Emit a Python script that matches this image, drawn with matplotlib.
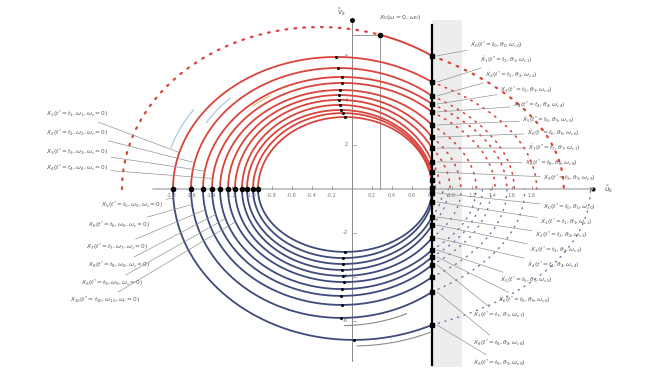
import numpy as np
import matplotlib.pyplot as plt

# crossings of the negative real axis (shared by the upper and lower branch)
x_start = [-1.79, -1.61, -1.49, -1.40, -1.32, -1.24, -1.17, -1.10, -1.05, -0.99, -0.94]
# upper (red) branches: peak height and height where they meet the boundary line
red_peak = [6.0, 5.5, 5.09, 4.82, 4.5, 4.27, 4.05, 3.82, 3.59, 3.45, 3.27]
red_end = [4.86, 4.23, 3.86, 3.5, 2.91, 2.36, 1.86, 1.23, 0.77, 0.41, 0.05]
# lower (blue) branches
blue_peak = [-6.86, -5.86, -5.27, -4.86, -4.55, -4.23, -3.95, -3.68, -3.41, -3.14, -2.86]
blue_end = [-6.18, -4.68, -4.0, -3.45, -3.09, -2.77, -2.23, -1.64, -1.27, -0.59, -0.18]
# outer reference curve X0
x0_start, x0_peak, x0_end, x0_mark = -2.3, 7.36, 6.05, 0.28
x_line = 0.8
stretch = 1.55   # widening of the dotted part beyond the boundary

xticks = [-1.8, -1.6, -1.4, -1.2, -1.0, -0.8, -0.6, -0.4, -0.2,
          0.2, 0.4, 0.6, 0.8, 1.0, 1.2, 1.4, 1.6, 1.8]
yticks = [-6, -4, -2, 2, 4, 6]

right_up_idx = [0, 1, 2, 3, 4, 5, 6, 7, 8]          # red curves labelled on the right
right_low_idx = [10, 9, 8, 7, 6, 5, 4, 3, 1, 0]      # blue curves labelled on the right
left_up_idx = [0, 1, 2, 3]
left_low_idx = [0, 1, 2, 3, 4, 5]

RED = '#d9443c'
BLUE = '#3e4a7a'
GREY = '#8a8a8a'
TXT = '#555555'


def branch(x0, peak, end):
    s = np.sqrt(1 - (end / peak) ** 2)
    a = (x_line - x0) / (1 + s)
    return x0 + a, a


def arc(cx, a, b, t0, t1, n=200):
    t = np.linspace(t0, t1, n)
    return cx + a * np.cos(t), b * np.sin(t)


def outer_arc(cx, a, b, t0):
    x, y = arc(cx, a, b, t0, 0)
    return x_line + (x - x_line) * stretch, y


def point(cx, a, b, t):
    return cx + a * np.cos(t), b * np.sin(t)


fig = plt.figure(figsize=(6.65, 3.76), dpi=100)
ax = fig.add_axes([0, 0, 1, 1])
ax.set_xlim(-3.52, 3.13)
ax.set_ylim(-8.5, 8.59)
ax.axis('off')

# shaded band right of the boundary
ax.fill_between([x_line, 1.1], -8.1, 7.7, color='#ededed', lw=0, zorder=0)

# axes
ax.annotate('', xy=(2.45, 0), xytext=(-2.02, 0),
            arrowprops=dict(arrowstyle='-|>', color=GREY, lw=0.7, mutation_scale=5))
ax.plot([0, 0], [-7.8, 7.7], color=GREY, lw=0.7, zorder=1)
ax.plot([0], [7.7], 'o', color='k', ms=2.5)
ax.plot([2.41], [0], 'o', color='k', ms=2)
for t in xticks:
    ax.plot([t, t], [0, 0.15], color=GREY, lw=0.5)
    ax.text(t, -0.2, f'{t:.1f}', fontsize=3.6, color='#777777', ha='center', va='top')
for t in yticks:
    ax.plot([0, 0.04], [t, t], color=GREY, lw=0.5)
    ax.text(-0.04, t, f'{t:d}', fontsize=3.8, color='#777777', ha='right', va='center')
ax.text(-0.1, 8.05, r'$\tilde{v}_k$', fontsize=5, color=TXT, ha='center', va='center')
ax.text(2.52, 0.0, r'$\tilde{u}_k$', fontsize=5, color=TXT, ha='left', va='center')

# outer reference curve X0
cx0, a0 = branch(x0_start, x0_peak, x0_end)
t_mark = np.arccos((x0_mark - cx0) / a0)
t_end0 = np.arccos((x_line - cx0) / a0)
dot = dict(ls=(0, (0.8, 3.2)), lw=1.6, dash_capstyle='round')
ax.plot(*arc(cx0, a0, x0_peak, np.pi, t_mark), color=RED, **dot)
ax.plot(*arc(cx0, a0, x0_peak, t_mark, t_end0), color=RED, lw=1.4)
ax.plot(*outer_arc(cx0, a0, x0_peak, t_end0), color=RED, **dot)
xm, ym = point(cx0, a0, x0_peak, t_mark)
ax.plot([xm, xm], [0, ym], color=GREY, lw=0.6)
ax.plot([0, xm], [ym, ym], color=GREY, lw=0.6)
ax.plot([xm], [ym], 'o', color='k', ms=3)
ax.plot([x_line], [x0_end], 's', color='k', ms=3)
ax.text(0.48, 7.8, r'$X_0(\omega=0,\omega_0)$', fontsize=4.5, color=TXT, ha='center', va='center')

red_geo = []
blue_geo = []
for i in range(len(x_start)):
    cx, a = branch(x_start[i], red_peak[i], red_end[i])
    te = np.arccos(np.clip((x_line - cx) / a, -1, 1))
    ax.plot(*arc(cx, a, red_peak[i], np.pi, te), color=RED, lw=1.3, zorder=3)
    ax.plot(*outer_arc(cx, a, red_peak[i], te), color=RED, ls=(0, (0.8, 3.5)), lw=1.2,
            dash_capstyle='round', zorder=2)
    ax.plot([cx], [red_peak[i]], 'o', color='k', ms=1.2, zorder=4)
    red_geo.append((cx, a))

    cx, a = branch(x_start[i], blue_peak[i], blue_end[i])
    te = np.arccos(np.clip((x_line - cx) / a, -1, 1))
    ax.plot(*arc(cx, a, blue_peak[i], np.pi, te), color=BLUE, lw=1.3, zorder=3)
    ax.plot(*outer_arc(cx, a, blue_peak[i], te), color='#6474a8', ls=(0, (0.8, 4.0)), lw=1.0,
            dash_capstyle='round', zorder=2)
    ax.plot([cx], [blue_peak[i]], 'o', color='k', ms=1.2, zorder=4)
    blue_geo.append((cx, a))

# boundary line and end points
ax.plot([x_line, x_line], [-8.0, 7.45], color='k', lw=1.6, zorder=5)
ax.plot(x_start, [0] * len(x_start), 'o', color='k', ms=3, zorder=6)
ax.plot([x_line] * len(red_end), red_end, 's', color='k', ms=3, zorder=6)
ax.plot([x_line] * len(blue_end), blue_end, 's', color='k', ms=3, zorder=6)

# direction arcs
cx, a = red_geo[0]
ax.plot(*arc(cx, 1.06 * a, 1.06 * red_peak[0], np.pi - 0.3, np.pi - 0.6), color='#9fc3d8', lw=0.8)
cx, a = red_geo[1]
ax.plot(*arc(cx, 1.05 * a, 1.05 * red_peak[1], np.pi - 0.55, np.pi - 0.8), color='#9fc3d8', lw=0.8)
cx, a = red_geo[3]
ax.plot(*arc(cx, 1.04 * a, 1.04 * red_peak[3], np.pi - 0.85, np.pi - 1.0), color='#d8c27a', lw=0.8)
cx, a = blue_geo[0]
ax.plot(*arc(cx, 1.04 * a, 1.04 * blue_peak[0], np.pi / 2 - 0.02, np.pi / 2 - 0.42), color=GREY, lw=0.8)
cx, a = blue_geo[1]
ax.plot(*arc(cx, 1.06 * a, 1.06 * blue_peak[1], np.pi / 2 - 0.02, np.pi / 2 - 0.42), color=GREY, lw=0.8)

# labels: upper right
ur_x = [1.18, 1.28, 1.33, 1.48, 1.61, 1.70, 1.75, 1.76, 1.73, 1.91]
ur_y = [6.55, 5.86, 5.18, 4.5, 3.82, 3.14, 2.55, 1.86, 1.18, 0.5]
targets = [(x_line + 0.05, x0_end)] + [(x_line + 0.05, red_end[i]) for i in right_up_idx]
for k in range(len(ur_x)):
    ax.annotate(r'$\tilde{X}_{%d}(t^{*}=t_{%d},\theta_{%d},\omega_{c%d})$' % (k, k, k, k),
                xy=targets[k], xytext=(ur_x[k], ur_y[k]), fontsize=4.2, color=TXT,
                ha='left', va='center',
                arrowprops=dict(arrowstyle='-', color=GREY, lw=0.45, shrinkA=0, shrinkB=0))

# labels: lower right
lr_x = [1.91, 1.88, 1.83, 1.78, 1.75, 1.48, 1.46, 1.21, 1.21, 1.21]
lr_y = [-0.82, -1.5, -2.09, -2.77, -3.45, -4.14, -5.05, -5.73, -7.0, -7.9]
for k, i in enumerate(right_low_idx):
    ax.annotate(r'$\tilde{X}_{%d}(t^{*}=t_{%d},\theta_{%d},\omega_{c%d})$' % (k, k, k, k),
                xy=(x_line + 0.05, blue_end[i]), xytext=(lr_x[k], lr_y[k]), fontsize=4.2,
                color=TXT, ha='left', va='center',
                arrowprops=dict(arrowstyle='-', color=GREY, lw=0.45, shrinkA=0, shrinkB=0))

# labels: upper left
lu_y = [3.4, 2.55, 1.68, 0.95]
lu_t = [0.28, 0.22, 0.16, 0.1]
for k, i in enumerate(left_up_idx):
    cx, a = red_geo[i]
    ax.annotate(r'$X_{%d}(t^{*}=t_{%d},\omega_{%d},\omega_{c}=0)$' % (k + 1, k + 1, k + 1),
                xy=point(cx, a, red_peak[i], np.pi - lu_t[k]), xytext=(-2.44, lu_y[k]),
                fontsize=4.2, color=TXT, ha='right', va='center',
                arrowprops=dict(arrowstyle='-', color=GREY, lw=0.45, shrinkA=0, shrinkB=0))

# labels: lower left
ll_x = [-1.89, -2.02, -2.04, -2.02, -2.09, -2.12]
ll_y = [-0.73, -1.64, -2.64, -3.45, -4.27, -5.05]
ll_t = [0.06, 0.12, 0.18, 0.24, 0.3, 0.36]
for k, i in enumerate(left_low_idx):
    cx, a = blue_geo[i]
    ax.annotate(r'$X_{%d}(t^{*}=t_{%d},\omega_{%d},\omega_{c}=0)$' % (k + 5, k + 5, k + 5),
                xy=point(cx, a, blue_peak[i], np.pi - ll_t[k]), xytext=(ll_x[k], ll_y[k]),
                fontsize=4.2, color=TXT, ha='right', va='center',
                arrowprops=dict(arrowstyle='-', color=GREY, lw=0.45, shrinkA=0, shrinkB=0))

fig.savefig('out.png', dpi=100)
